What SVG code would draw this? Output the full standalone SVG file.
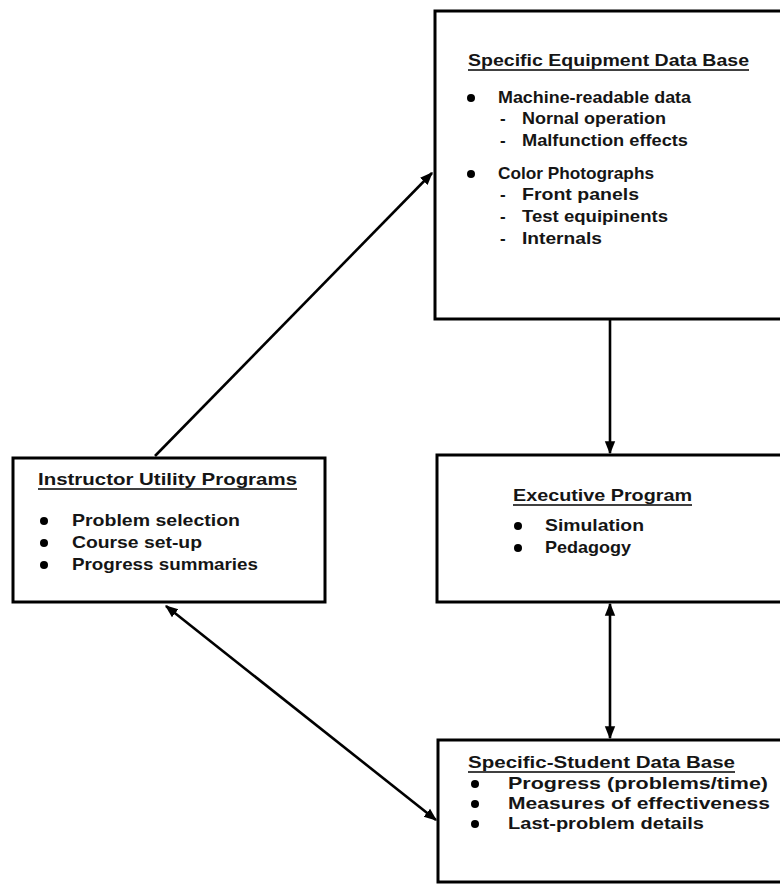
<svg xmlns="http://www.w3.org/2000/svg" width="780" height="884" viewBox="0 0 780 884">
<style>
.box{fill:#fff;stroke:#000;stroke-width:3}
.t{font-family:"Liberation Sans",Arial,sans-serif;font-size:17px;font-weight:bold;fill:#151515}
.u{stroke:#000;stroke-width:1.3}
.c{stroke:#000;stroke-width:2.6;fill:none}
.b{fill:#000}
</style>
<defs>
<marker id="ah" viewBox="0 0 10 10" refX="9" refY="5" markerWidth="5" markerHeight="5" orient="auto-start-reverse" markerUnits="strokeWidth">
<path d="M0,1 L10,5 L0,9 z" fill="#000"/>
</marker>
</defs>
<rect width="780" height="884" fill="#fff"/>
<g id="connectors">
<line class="c" x1="155" y1="456" x2="432" y2="173" marker-end="url(#ah)"/>
<line class="c" x1="610" y1="320" x2="610" y2="453" marker-end="url(#ah)"/>
<line class="c" x1="610" y1="604" x2="610" y2="738" marker-start="url(#ah)" marker-end="url(#ah)"/>
<line class="c" x1="166" y1="606" x2="436" y2="820" marker-start="url(#ah)" marker-end="url(#ah)"/>
</g>
<g id="equipment">
<rect class="box" x="435" y="11" width="370" height="308"/>
<text class="t" x="468" y="66" textLength="281" lengthAdjust="spacingAndGlyphs">Specific Equipment Data Base</text>
<line class="u" x1="468" y1="70" x2="749" y2="70"/>
<circle class="b" cx="471" cy="98" r="4"/>
<text class="t" x="498" y="103" textLength="193" lengthAdjust="spacingAndGlyphs">Machine-readable data</text>
<text class="t" x="500" y="124">-</text>
<text class="t" x="522" y="124" textLength="144" lengthAdjust="spacingAndGlyphs">Nornal operation</text>
<text class="t" x="500" y="146">-</text>
<text class="t" x="522" y="146" textLength="166" lengthAdjust="spacingAndGlyphs">Malfunction effects</text>
<circle class="b" cx="471" cy="174" r="4"/>
<text class="t" x="498" y="179" textLength="156" lengthAdjust="spacingAndGlyphs">Color Photographs</text>
<text class="t" x="500" y="200">-</text>
<text class="t" x="522" y="200" textLength="117" lengthAdjust="spacingAndGlyphs">Front panels</text>
<text class="t" x="500" y="222">-</text>
<text class="t" x="522" y="222" textLength="146" lengthAdjust="spacingAndGlyphs">Test equipinents</text>
<text class="t" x="500" y="244">-</text>
<text class="t" x="522" y="244" textLength="80" lengthAdjust="spacingAndGlyphs">Internals</text>
</g>
<g id="instructor">
<rect class="box" x="13" y="458" width="312" height="144"/>
<text class="t" x="38" y="485" textLength="259" lengthAdjust="spacingAndGlyphs">Instructor Utility Programs</text>
<line class="u" x1="38" y1="489" x2="297" y2="489"/>
<circle class="b" cx="44" cy="521" r="4"/>
<text class="t" x="72" y="526" textLength="168" lengthAdjust="spacingAndGlyphs">Problem selection</text>
<circle class="b" cx="44" cy="543" r="4"/>
<text class="t" x="72" y="548" textLength="130" lengthAdjust="spacingAndGlyphs">Course set-up</text>
<circle class="b" cx="44" cy="565" r="4"/>
<text class="t" x="72" y="570" textLength="186" lengthAdjust="spacingAndGlyphs">Progress summaries</text>
</g>
<g id="executive">
<rect class="box" x="437" y="455" width="370" height="147"/>
<text class="t" x="513" y="501" textLength="179" lengthAdjust="spacingAndGlyphs">Executive Program</text>
<line class="u" x1="513" y1="505" x2="692" y2="505"/>
<circle class="b" cx="518" cy="526" r="4"/>
<text class="t" x="545" y="531" textLength="99" lengthAdjust="spacingAndGlyphs">Simulation</text>
<circle class="b" cx="518" cy="548" r="4"/>
<text class="t" x="545" y="553" textLength="86" lengthAdjust="spacingAndGlyphs">Pedagogy</text>
</g>
<g id="student">
<rect class="box" x="438" y="740" width="370" height="142"/>
<text class="t" x="468" y="768" textLength="267" lengthAdjust="spacingAndGlyphs">Specific-Student Data Base</text>
<line class="u" x1="468" y1="772" x2="735" y2="772"/>
<circle class="b" cx="475" cy="784" r="4"/>
<text class="t" x="508" y="789" textLength="260" lengthAdjust="spacingAndGlyphs">Progress (problems/time)</text>
<circle class="b" cx="475" cy="804" r="4"/>
<text class="t" x="508" y="809" textLength="262" lengthAdjust="spacingAndGlyphs">Measures of effectiveness</text>
<circle class="b" cx="475" cy="824" r="4"/>
<text class="t" x="508" y="829" textLength="196" lengthAdjust="spacingAndGlyphs">Last-problem details</text>
</g>
</svg>
